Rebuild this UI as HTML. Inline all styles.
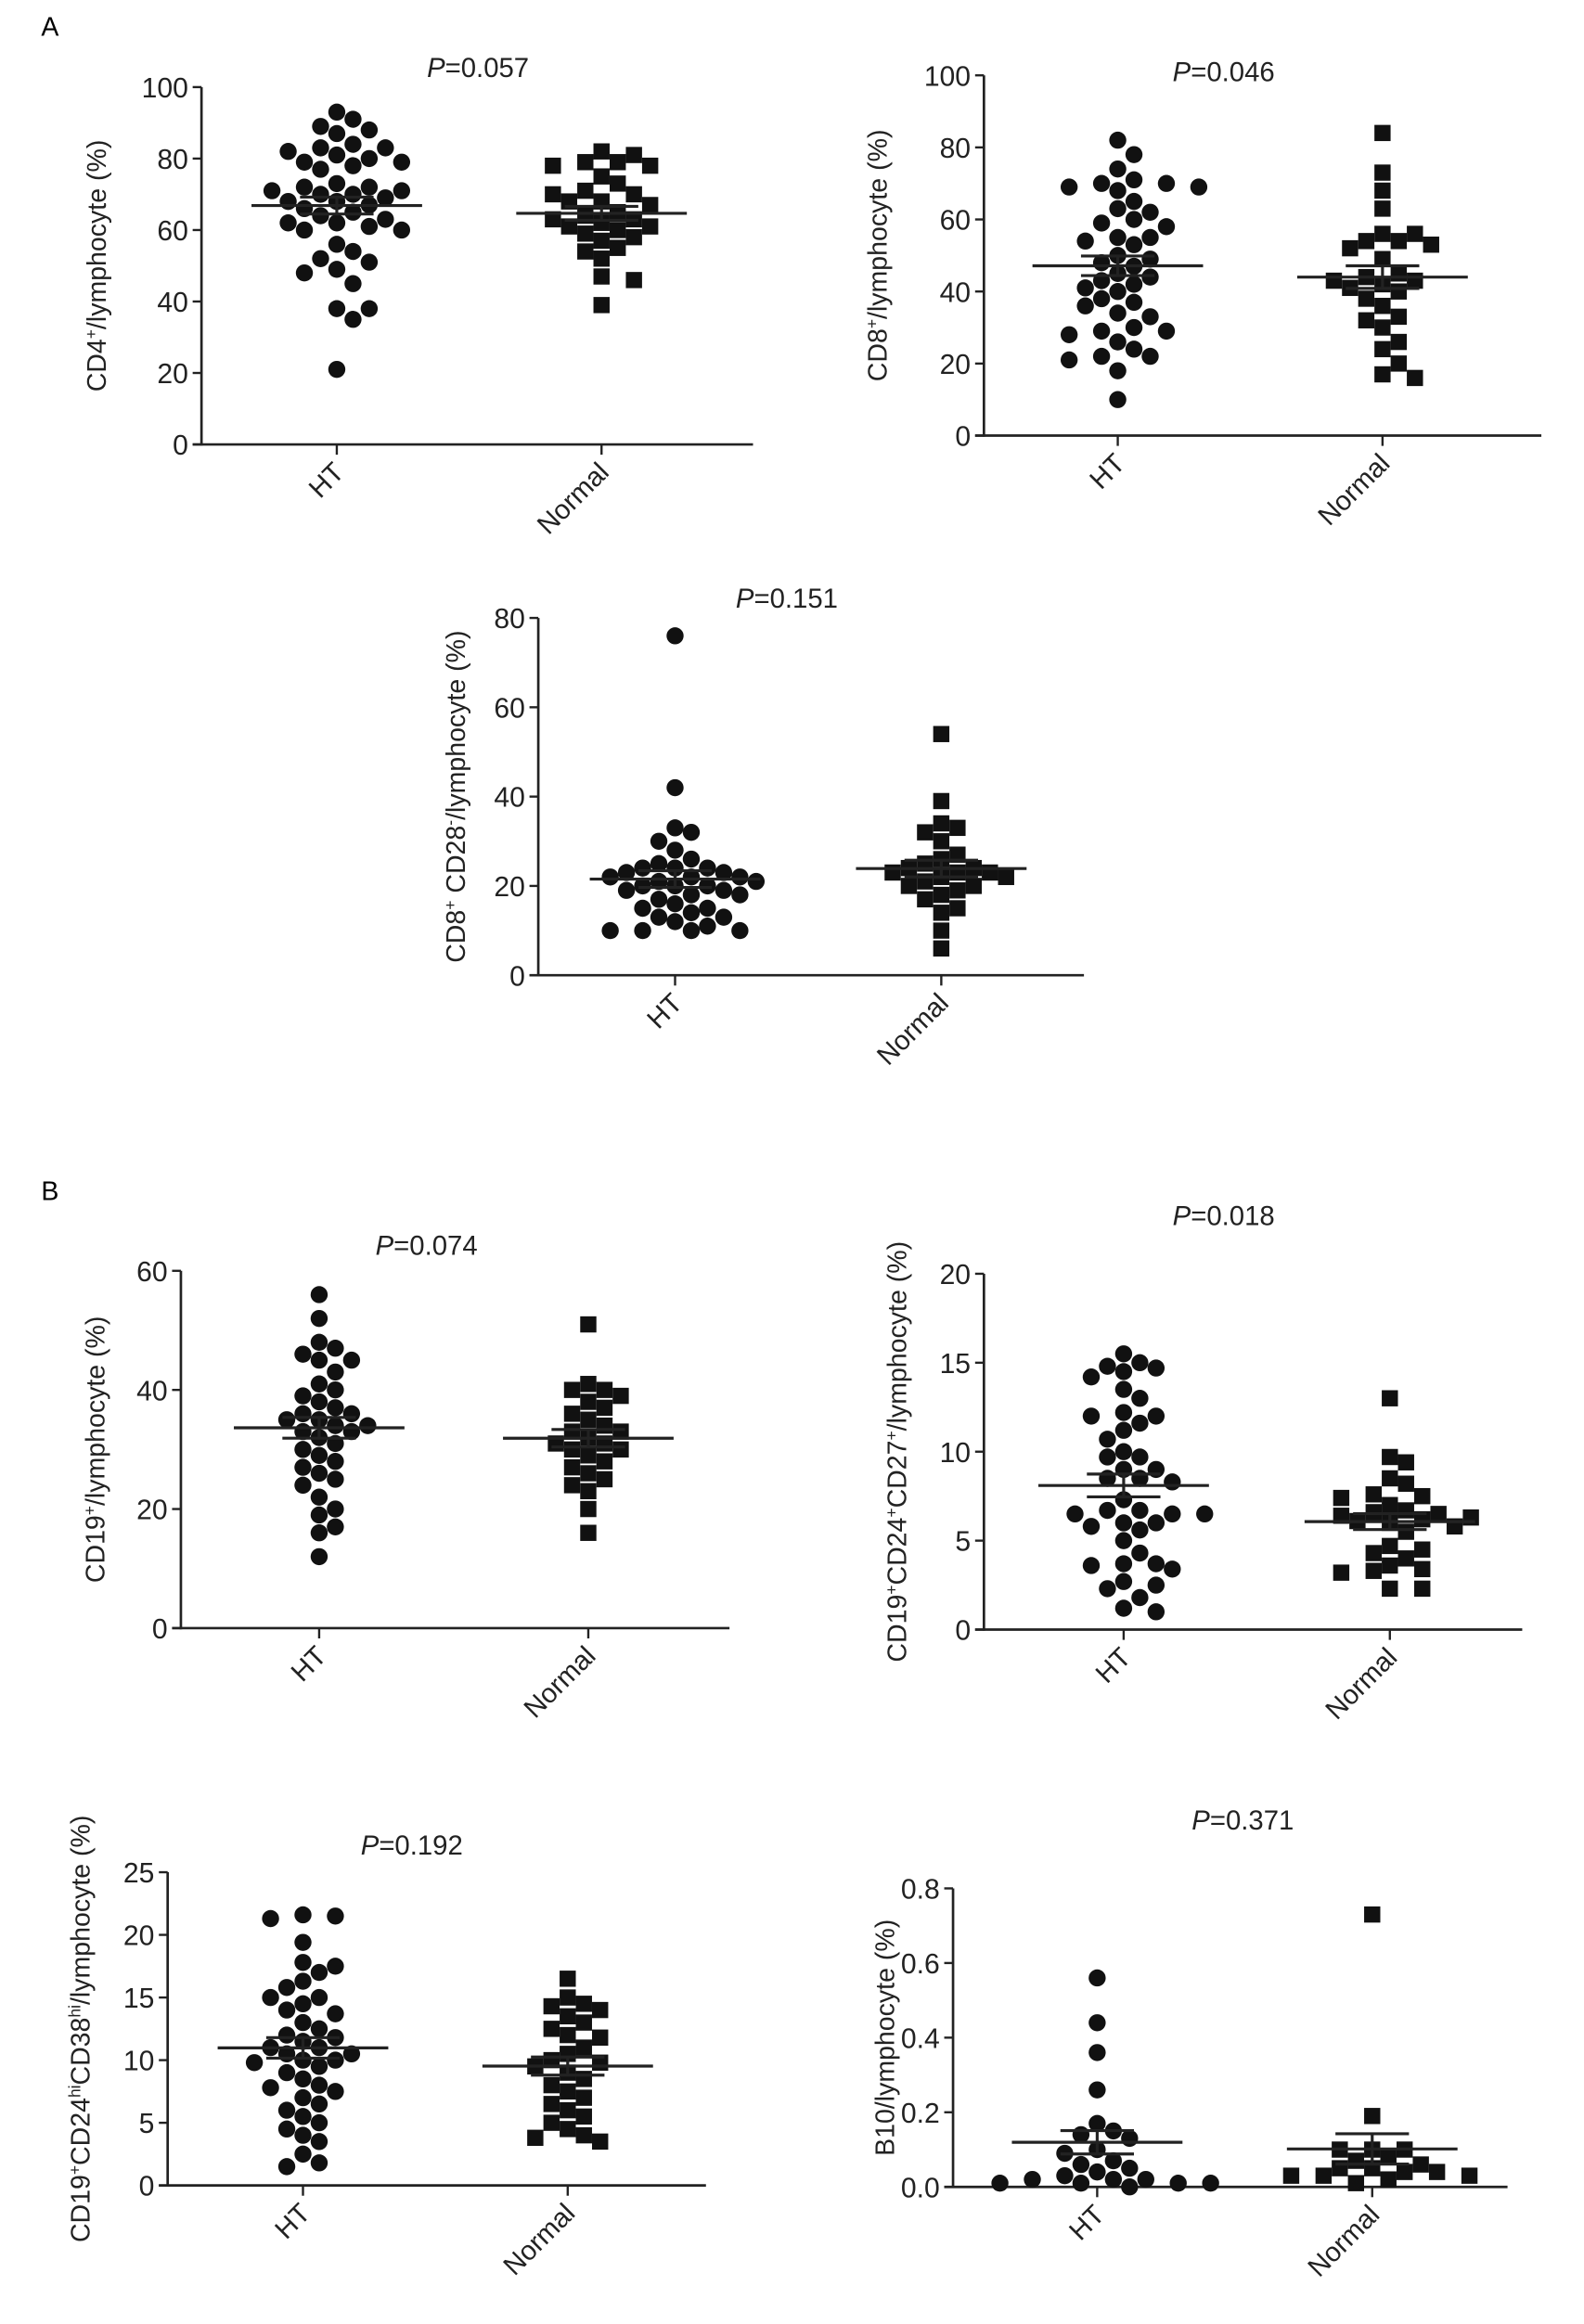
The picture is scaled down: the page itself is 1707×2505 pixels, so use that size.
<!DOCTYPE html>
<html><head><meta charset="utf-8"><style>
html,body{margin:0;padding:0;background:#fff;}
svg{display:block;font-family:"Liberation Sans",Arial,sans-serif;}
</style></head><body>
<svg id="fig" width="1707" height="2505" viewBox="0 0 1077 1580" xmlns="http://www.w3.org/2000/svg">
<text x="28" y="24" font-size="18">A</text>
<text x="28" y="816" font-size="18">B</text>
</svg>
<script>
// ---- data ----
const categories = ["HT", "Normal"];
const cd4HT = [93,91,89,88,87,84,83,83,82,81,80,79,79,78,77,73,72,72,71,71,70,70,69,68,68,67,66,65,64,63,62,62,61,60,60,56,54,52,51,49,48,45,38,38,35,21];
const cd4Normal = [82,81,79,79,78,78,75,73,71,70,70,68,68,67,65,64,63,63,62,61,61,60,59,58,57,55,54,52,47,46,39];
const cd8HT = [82,78,74,71,70,70,69,69,68,65,63,62,60,59,58,55,55,54,53,50,49,48,47,45,44,43,42,41,40,38,37,36,34,33,30,29,29,28,26,24,22,22,21,18,10];
const cd8Normal = [84,73,68,63,56,56,54,54,53,52,49,45,44,43,43,42,41,40,38,36,33,32,30,26,24,20,17,16];
const cd28HT = [76,42,33,32,30,28,26,25,24,24,24,23,23,22,22,22,21,21,20,20,20,19,19,18,18,17,16,15,15,14,13,13,12,11,10,10,10,10];
const cd28Normal = [54,39,34,33,32,30,27,26,25,24,24,23,23,23,22,22,21,20,20,19,18,17,15,14,10,6];
const cd19HT = [56,52,48,47,46,45,45,43,41,40,39,38,37,36,36,35,35,34,34,33,33,32,31,30,29,28,27,26,25,24,22,20,19,17,16,12];
const cd19Normal = [51,41,40,40,39,38,37,36,35,34,33,33,32,31,31,30,30,29,28,27,26,25,24,23,20,16];
const cd27HT = [15.5,15,14.8,14.7,14.5,14.2,13.5,13,12.2,12,12,11.6,11.2,10.7,10,9.7,9.7,9,9,8.5,8.5,8.3,7.3,6.7,6.7,6.5,6.5,6.5,6,6,5.8,5.6,5,4.3,3.7,3.7,3.6,3.4,2.7,2.5,2.3,1.8,1.2,1];
const cd27Normal = [13,9.7,9.4,8.5,8.2,7.6,7.5,7.4,7,6.7,6.6,6.5,6.4,6.3,6.2,6.1,6,5.8,5.5,4.7,4.5,4.3,4,3.6,3.4,3.3,3.2,2.3,2.3];
const cd38HT = [21.6,21.5,21.3,19.4,17.8,17.5,17,16.3,15.8,15,15,14.5,14,13.7,13,12.5,12,11.8,11.5,11,11,10.5,10.5,10,10,9.8,9.5,9,8.5,8,7.8,7.5,7,6.5,6,5.5,5,4.5,4,3.5,2.5,1.8,1.5];
const cd38Normal = [16.5,15,14.5,14.3,14,13.5,13,12.5,12,11.8,11,10.5,10,9.8,9.5,9,8.5,8,7.5,7,6.5,6,5.5,5,4.5,4,3.8,3.5];
const b10HT = [0.56,0.44,0.36,0.26,0.17,0.15,0.14,0.13,0.1,0.09,0.07,0.06,0.05,0.04,0.03,0.02,0.02,0.02,0.01,0.01,0.01,0.01,0.0];
const b10Normal = [0.73,0.19,0.1,0.1,0.1,0.08,0.07,0.06,0.05,0.05,0.04,0.04,0.03,0.03,0.03,0.02,0.01];
const ticks100 = [0,20,40,60,80,100];
const ticks80 = [0,20,40,60,80];
const ticks60 = [0,20,40,60];
const ticks20 = [0,5,10,15,20];
const ticks25 = [0,5,10,15,20,25];
const ticksB10 = [0,0.2,0.4,0.6,0.8];
const tickLabelsB10 = ["0.0","0.2","0.4","0.6","0.8"];
const pValues = ["0.057","0.046","0.151","0.074","0.018","0.192","0.371"];

const NS = "http://www.w3.org/2000/svg";
const svg = document.getElementById('fig');
function el(tag, attrs, parent){const e=document.createElementNS(NS,tag);for(const k in attrs)e.setAttribute(k,attrs[k]);(parent||svg).appendChild(e);return e;}

const panels = [
 {name:'cd4',ax:137,top:59,bot:302,end:512,xs:[229,409],max:100,ticks:ticks100,labels:null,data:[cd4HT,cd4Normal],p:0,px:325,py:52,tx:72,title:[['CD4',0],['+',1],['/lymphocyte (%)',0]]},
 {name:'cd8',ax:669,top:51,bot:296,end:1048,xs:[760,940],max:100,ticks:ticks100,labels:null,data:[cd8HT,cd8Normal],p:1,px:832,py:55,tx:603,title:[['CD8',0],['+',1],['/lymphocyte (%)',0]]},
 {name:'cd8-cd28',ax:366,top:420,bot:663,end:737,xs:[459,640],max:80,ticks:ticks80,labels:null,data:[cd28HT,cd28Normal],p:2,px:535,py:413,tx:316,title:[['CD8',0],['+',1],[' CD28',0],['-',1],['/lymphocyte (%)',0]]},
 {name:'cd19',ax:123,top:864,bot:1107,end:496,xs:[217,400],max:60,ticks:ticks60,labels:null,data:[cd19HT,cd19Normal],p:3,px:290,py:853,tx:71,title:[['CD19',0],['+',1],['/lymphocyte (%)',0]]},
 {name:'cd27',ax:669,top:866,bot:1108,end:1035,xs:[764,945],max:20,ticks:ticks20,labels:null,data:[cd27HT,cd27Normal],p:4,px:832,py:833,tx:616,title:[['CD19',0],['+',1],['CD24',0],['+',1],['CD27',0],['+',1],['/lymphocyte (%)',0]]},
 {name:'cd38',ax:114,top:1273,bot:1486,end:480,xs:[206,386],max:25,ticks:ticks25,labels:null,data:[cd38HT,cd38Normal],p:5,px:280,py:1261,tx:61,title:[['CD19',0],['+',1],['CD24',0],['hi',1],['CD38',0],['hi',1],['/lymphocyte (%)',0]]},
 {name:'b10',ax:648,top:1284,bot:1487,end:1025,xs:[746,933],max:0.8,ticks:ticksB10,labels:tickLabelsB10,data:[b10HT,b10Normal],p:6,px:845,py:1244,tx:608,title:[['B10/lymphocyte (%)',0]]}
];

const R = 5.8;
function swarm(vals, yf){
  const placed=[]; const out=[];
  const sorted = vals.map((v,i)=>({v,i})).sort((a,b)=>b.v-a.v);
  for(const s of sorted){
    const y=yf(s.v); let off=0;
    for(let k=0;k<60;k++){
      const cand = k===0?0:(k%2?1:-1)*Math.ceil(k/2)*R*1.9;
      if(placed.every(p=>Math.hypot(p.x-cand,p.y-y)>=2*R*0.98)){off=cand;break;}
    }
    placed.push({x:off,y}); out.push({v:s.v,x:off,y});
  }
  return out;
}

panels.forEach(P=>{
  const g = el('g',{});
  
  
  const yf = v => P.bot - (v/P.max)*(P.bot-P.top);
  const ya = el('line',{x1:P.ax,y1:P.top,x2:P.ax,y2:P.bot+0.8,stroke:'#222','stroke-width':1.7},g);
  
  
  const xa = el('line',{x1:P.ax-6,y1:P.bot,x2:P.end,y2:P.bot,stroke:'#222','stroke-width':1.7},g);
  
  
  P.ticks.forEach((t,i)=>{
    const y=yf(t);
    el('line',{x1:P.ax-6,y1:y,x2:P.ax,y2:y,stroke:'#222','stroke-width':1.5},g);
    const tl = el('text',{x:P.ax-9,y:y+7,'font-size':19,'text-anchor':'end',fill:'#222'},g);
    
    
    tl.textContent = P.labels?P.labels[i]:String(t);
  });
  categories.forEach((c,ci)=>{
    const x=P.xs[ci];
    el('line',{x1:x,y1:P.bot,x2:x,y2:P.bot+7,stroke:'#222','stroke-width':1.5},g);
    const lx = x+6, ly = P.bot+20;
    const t = el('text',{x:lx,y:ly,'font-size':18.5,'text-anchor':'end',fill:'#222',transform:`rotate(-45 ${lx} ${ly})`},g);
    
    
    t.textContent = c;
    const pts = swarm(P.data[ci], yf);
    pts.forEach(p=>{
      let m;
      if(ci===0) m = el('circle',{cx:x+p.x,cy:p.y,r:R,fill:'#111'},g);
      else m = el('rect',{x:x+p.x-R+0.3,y:p.y-R+0.3,width:2*R-0.6,height:2*R-0.6,fill:'#111'},g);
      
      
    });
    const d=P.data[ci], n=d.length, mean=d.reduce((a,b)=>a+b,0)/n;
    const sd=Math.sqrt(d.reduce((a,b)=>a+(b-mean)**2,0)/(n-1)), sem=sd/Math.sqrt(n);
    const ml = el('line',{x1:x-58,y1:yf(mean),x2:x+58,y2:yf(mean),stroke:'#222','stroke-width':2},g);
    
    
    [mean+sem,mean-sem].forEach(v=>{
      const s=el('line',{x1:x-25,y1:yf(v),x2:x+25,y2:yf(v),stroke:'#222','stroke-width':2},g);
      
      
    });
    el('line',{x1:x,y1:yf(mean+sem),x2:x,y2:yf(mean-sem),stroke:'#222','stroke-width':2},g);
  });
  const pt = el('text',{x:P.px,y:P.py,'font-size':18.5,'text-anchor':'middle',fill:'#222'},g);
  
  
  const it = el('tspan',{'font-style':'italic'},pt); it.textContent='P';
  const rt = el('tspan',{},pt); rt.textContent='='+pValues[P.p];
  const cy=(P.top+P.bot)/2;
  const yt = el('text',{x:P.tx,y:cy,'font-size':18,'text-anchor':'middle',fill:'#222',transform:`rotate(-90 ${P.tx} ${cy})`},g);
  
  
  P.title.forEach(([s,sup])=>{
    const ts = el('tspan',sup?{'font-size':11,'baseline-shift':'super'}:{},yt);
    ts.textContent=s;
  });
});
</script>
</body></html>
